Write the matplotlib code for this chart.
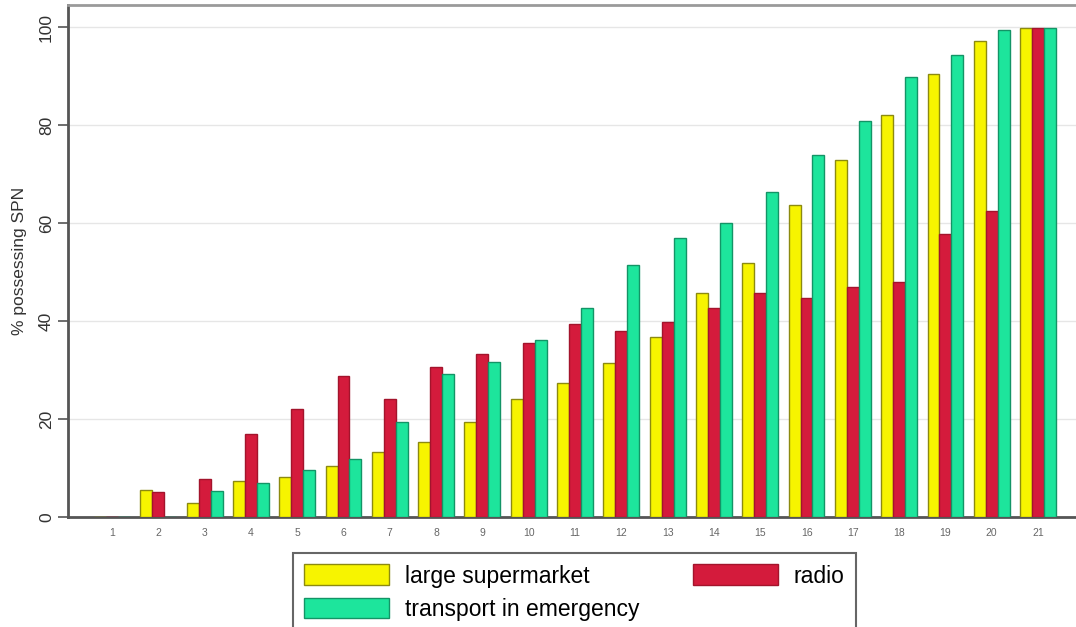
import matplotlib.pyplot as plt
import numpy as np

plt.rcParams['font.family'] = ['Liberation Sans', 'DejaVu Sans']

categories = [str(i) for i in range(1, 22)]
supermarket = [0, 5.5, 2.9, 7.4, 8.2, 10.4, 13.3, 15.3, 19.4, 24.1, 27.4,
               31.5, 36.8, 45.8, 51.9, 63.6, 72.8, 82.0, 90.4, 97.1, 99.8]
radio = [0, 5.1, 7.8, 17.0, 22.0, 28.8, 24.1, 30.7, 33.3, 35.6, 39.3,
         38.0, 39.9, 42.7, 45.8, 44.8, 47.0, 47.9, 57.7, 62.4, 99.8]
transport = [0, 0, 5.3, 7.0, 9.6, 11.9, 19.4, 29.2, 31.7, 36.2, 42.7,
             51.5, 56.9, 60.1, 66.3, 73.8, 80.8, 89.8, 94.3, 99.4, 99.8]

x = np.arange(1, len(categories) + 1)
w = 0.258

fig = plt.figure(figsize=(10.76, 6.27), dpi=100)
ax = fig.add_axes([0.0632, 0.1754, 0.9368, 0.8166])

b1 = ax.bar(x - w, supermarket, w, color="#f7f400", edgecolor="#8c8a10", linewidth=1.0, zorder=3)
b2 = ax.bar(x, radio, w, color="#d41b3c", edgecolor="#a3142c", linewidth=1.0, zorder=3)
b3 = ax.bar(x + w, transport, w, color="#1de59c", edgecolor="#139466", linewidth=1.0, zorder=3)

ax.set_xlim(0.05, 21.82)
ax.set_ylim(0, 104.5)
ax.set_xticks(x)
ax.set_xticklabels(categories, fontsize=7.5, color="#666666")
ax.tick_params(axis="x", length=0, pad=8)
ax.set_yticks([0, 20, 40, 60, 80, 100])
ax.set_yticklabels(["0", "20", "40", "60", "80", "100"], rotation=90, va="center",
                   fontsize=12.5, color="#333333")
ax.tick_params(axis="y", length=7, width=1.2, color="#555555", pad=3)
ax.set_ylabel("% possessing SPN", fontsize=12.5, color="#333333")
ax.yaxis.set_label_coords(-0.041, 0.5)

ax.yaxis.grid(True, color="#e6e6e6", linewidth=1.0, zorder=0)
ax.set_axisbelow(True)

ax.spines["right"].set_visible(False)
ax.spines["top"].set_color("#9a9a9a")
ax.spines["top"].set_linewidth(2)
ax.spines["left"].set_color("#555555")
ax.spines["left"].set_linewidth(2)
ax.spines["bottom"].set_color("#555555")
ax.spines["bottom"].set_linewidth(2)

leg = fig.legend([b1, b3, b2], ["large supermarket", "transport in emergency", "radio"],
                 ncol=2, loc="upper left", bbox_to_anchor=(0.2723, 0.118),
                 borderaxespad=0,
                 fontsize=16.5, handlelength=3.7, handleheight=1.0, handletextpad=0.7,
                 columnspacing=2.32, labelspacing=0.45, borderpad=0.5,
                 fancybox=False, edgecolor="#666666", framealpha=1)
leg.get_frame().set_linewidth(1.5)

fig.savefig("out.png", dpi=100)
